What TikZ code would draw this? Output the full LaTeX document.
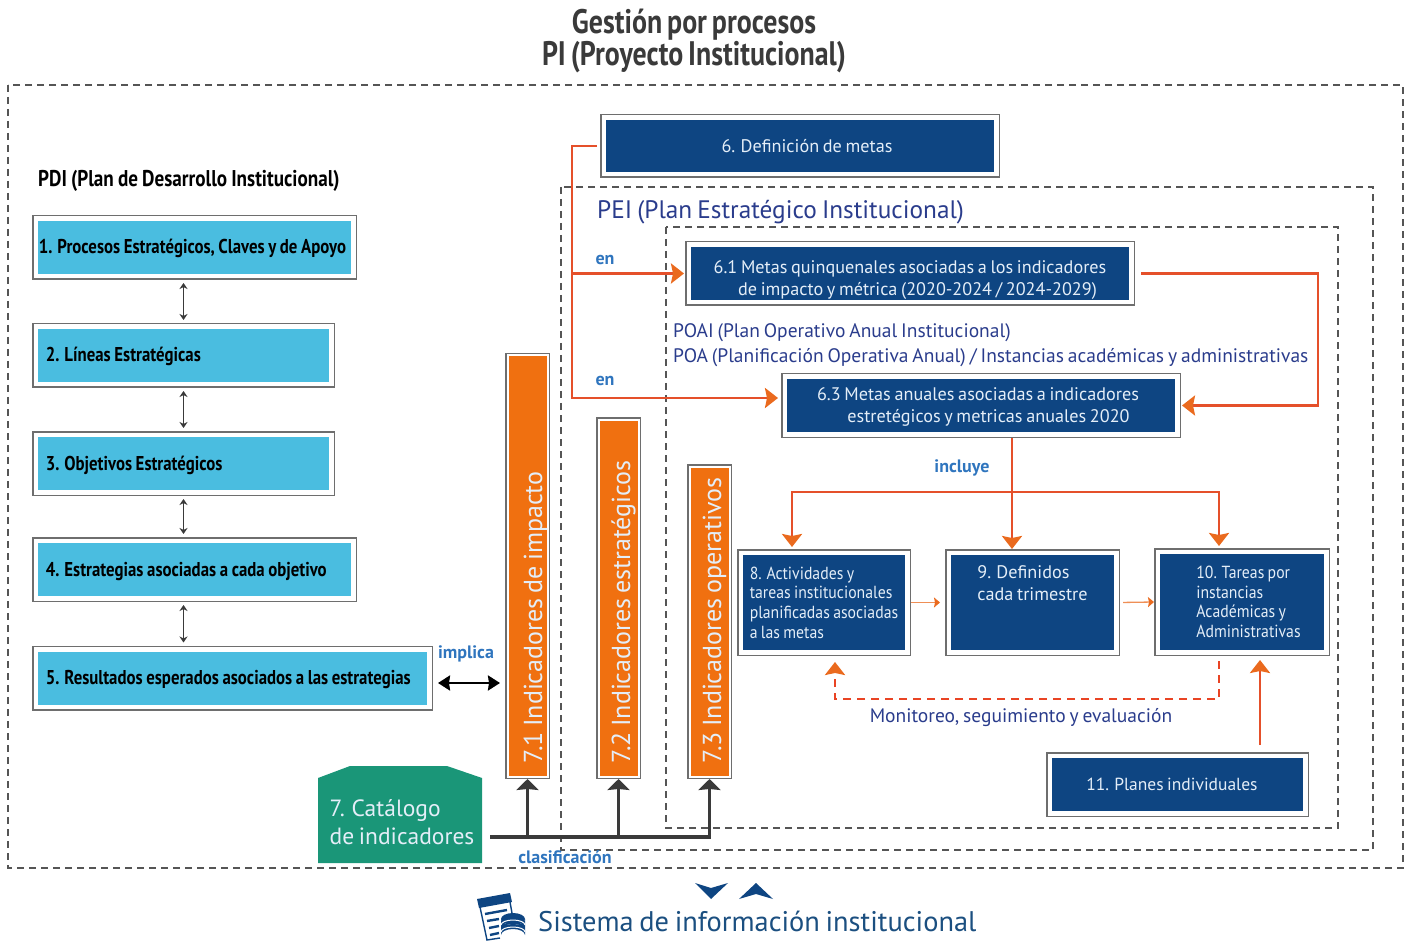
\documentclass[tikz,border=0pt]{standalone}
\usepackage{fontspec}
\usetikzlibrary{arrows.meta}
\setmainfont[WordSpace=0.75]{PT Sans}
\newfontfamily\condfont[FakeStretch=0.84,WordSpace=0.85]{PT Sans}
\newfontfamily\smallfont[FakeStretch=0.9,WordSpace=0.8]{PT Sans}
\newfontfamily\titlefont[FakeStretch=0.82,WordSpace=0.7]{PT Sans}
\definecolor{skyfill}{HTML}{4ABDE0}
\definecolor{navyfill}{HTML}{0E4582}
\definecolor{indfill}{HTML}{F07010}
\definecolor{catfill}{HTML}{1A9678}
\definecolor{goalred}{HTML}{E5502A}
\definecolor{headorange}{HTML}{EA6A1E}
\definecolor{ringgray}{HTML}{6E6E6E}
\definecolor{dashgray}{HTML}{555555}
\definecolor{darkbar}{HTML}{3A3A3A}
\definecolor{inktext}{HTML}{2A3C8C}
\definecolor{linktext}{HTML}{2F75BE}
\definecolor{sysblue}{HTML}{1B4F80}
\definecolor{palewhite}{HTML}{E4EEF8}

\begin{document}
\begin{tikzpicture}[x=1pt,y=-1pt,>=latex,
  ringed/.style={preaction={draw=ringgray,line width=#1+3pt},draw=white,line width=#1,outer sep=#1/2+1.5pt},
  ringed/.default=4.5pt,
  pdibox/.style={ringed,fill=skyfill,inner xsep=10pt,inner ysep=0pt,minimum height=57.5pt,align=flush left,text=black,
    text height=17pt,text depth=4pt,font=\condfont\bfseries\fontsize{20}{24}\selectfont},
  goalbox/.style={ringed,fill=navyfill,inner sep=0pt,align=center,text=palewhite,font=\fontsize{18.2}{22}\selectfont},
  smallgoal/.style={goalbox,align=left,font=\smallfont\fontsize{17.5}{19.6}\selectfont},
  indbox/.style={ringed=2pt,fill=indfill,rotate=90,inner xsep=13.5pt,inner ysep=0pt,minimum height=40pt,align=flush left,
    text height=23pt,text depth=0pt,text=palewhite,font=\fontsize{26}{30}\selectfont},
  catbox/.style={inner sep=0pt,minimum width=164pt,minimum height=97pt,align=left,text=palewhite,font=\fontsize{23.5}{28}\selectfont},
  linklabel/.style={text=linktext,inner sep=0pt,font=\bfseries\fontsize{18}{20}\selectfont},
  inklabel/.style={text=inktext,inner sep=0pt,font=\fontsize{19.5}{24}\selectfont},
  framedash/.style={draw=dashgray,line width=1.4pt,dash pattern=on 7pt off 5pt},
  goalarrow/.style={draw=goalred,line width=2.8pt,-{Stealth[length=13pt,width=20pt,inset=2pt,color=headorange]}},
  thinarrow/.style={draw=headorange!75!white,line width=1.3pt,-{Stealth[length=6pt,width=10pt,inset=1pt,color=headorange]}},
  busline/.style={draw=darkbar,line width=3.2pt},
  busarrow/.style={busline,-{Stealth[length=11pt,width=22pt,inset=1pt]}},
  linkarrow/.style={draw=darkbar,line width=1.2pt,{Stealth[length=6pt,width=8pt]}-{Stealth[length=6pt,width=8pt]},shorten <=3pt,shorten >=3pt},
]
\useasboundingbox (0,0) rectangle (1409,941);

% frames
\draw[framedash] (8,85) rectangle (1403,868);
\draw[framedash] (561,187) rectangle (1373,850);
\draw[framedash] (666,227) rectangle (1338,828);

% titles
\node[inner sep=0pt,align=center,font=\titlefont\bfseries\fontsize{34}{32}\selectfont,text=darkbar] (title) at (694,41) {Gestión por procesos\\PI (Proyecto Institucional)};
\node[inner sep=0pt,anchor=west,font=\condfont\bfseries\fontsize{22.8}{26}\selectfont] (pdi) at (38,181) {PDI (Plan de Desarrollo Institucional)};
\node[inklabel,anchor=west,font=\fontsize{25.3}{30}\selectfont] (pei) at (597,212) {PEI (Plan Estratégico Institucional)};
\node[inklabel,anchor=west] (poai) at (673,333) {POAI (Plan Operativo Anual Institucional)};
\node[inklabel,anchor=west] (poa) at (673,358) {POA (Planificación Operativa Anual) / Instancias académicas y administrativas};

% left column
\node[pdibox,minimum width=317.5pt,inner xsep=3pt,text width=311.5pt] (proc) at (194.5,247.5) {1. Procesos Estratégicos, Claves y de Apoyo};
\node[pdibox,minimum width=295.5pt,text width=275.5pt] (lin) at (183.5,355.5) {2. Líneas Estratégicas};
\node[pdibox,minimum width=295.5pt,text width=275.5pt] (obj) at (183.5,463.5) {3. Objetivos Estratégicos};
\node[pdibox,minimum width=317.5pt,text width=297.5pt] (est) at (194.5,569.5) {4. Estrategias asociadas a cada objetivo};
\node[pdibox,minimum width=393.5pt,text width=373.5pt] (res) at (232.5,678) {5. Resultados esperados asociados a las estrategias};

\draw[linkarrow] (lin.north |- proc.south) -- (lin.north);
\draw[linkarrow] (lin.south) -- (obj.north);
\draw[linkarrow] (obj.south) -- (obj.south |- est.north);
\draw[linkarrow] (obj.south |- est.south) -- (obj.south |- res.north);

% indicators
\node[indbox,text width=394pt,text height=29pt] (imp) at (527.5,566) {7.1 Indicadores de impacto};
\node[indbox,text width=330pt] (str) at (618.5,598) {7.2 Indicadores estratégicos};
\node[indbox,text width=283pt] (ope) at (709.5,621.5) {\mbox{7.3 Indicadores operativos}};

\fill[catfill] (318,778) -- (350,766) -- (447,766) -- (482,778) -- (482,863) -- (318,863) -- cycle;
\node[catbox] (cat) at (402,814.5) {\rule{0pt}{32pt}7. Catálogo\\de indicadores};

\coordinate (busl) at (490,837);
\draw[busarrow] (busl) -| (ope.west);
\draw[busarrow] (imp.west |- busl) -- (imp.west);
\draw[busarrow] (str.west |- busl) -- (str.west);

\draw[draw=black,line width=2.6pt,{Stealth[length=12pt,width=15pt,inset=1pt]}-{Stealth[length=12pt,width=15pt,inset=1pt]},shorten <=5pt,shorten >=5pt]
  ([yshift=-5pt]res.east) -- ([yshift=-5pt]res.east -| imp.north);

% goals
\node[goalbox,minimum width=392.5pt,minimum height=56.5pt] (def) at (800,146) {\hspace*{14pt}6. Definición de metas};
\node[goalbox,minimum width=442.5pt,minimum height=57.5pt] (qui) at (910,273.5) {\rule{0pt}{25.5pt}6.1 Metas quinquenales asociadas a los indicadores\\\hspace*{15pt}de impacto y métrica (2020-2024 / 2024-2029)};
\node[goalbox,minimum width=392.5pt,minimum height=57.5pt] (anu) at (981,405.5) {\rule{0pt}{15.5pt}\hspace*{-6pt}6.3 Metas anuales asociadas a indicadores\\\hspace*{15pt}estretégicos y metricas anuales 2020};
\node[smallgoal,minimum width=166.5pt,minimum height=99.5pt] (act) at (824,602.5) {8. Actividades y\\tareas institucionales\\planificadas asociadas\\a las metas};
\node[smallgoal,minimum width=167.5pt,minimum height=99.5pt,font=\fontsize{18.2}{22}\selectfont] (tri) at (1032.5,602.5) {9. Definidos\\cada trimestre\\[16pt]\mbox{}};
\node[smallgoal,minimum width=168.5pt,minimum height=100.5pt] (tar) at (1242,602) {\hspace*{13pt}10. Tareas por\\\hspace*{13pt}instancias\\\hspace*{13pt}Académicas y\\\hspace*{13pt}Administrativas};
\node[goalbox,minimum width=255.5pt,minimum height=57.5pt,font=\fontsize{17.5}{22}\selectfont] (ind) at (1177.5,784.5) {\hspace*{-11pt}11. Planes individuales};

\coordinate (trunk) at (572,398);
\coordinate (in63) at (778,398);
\coordinate (split) at (1012,492);
\coordinate (in8) at (792,547);
\coordinate (in10) at (1219,546);
\coordinate (monl) at (835,699);
\coordinate (up10) at (1260,700);

\draw[goalarrow,shorten <=3pt] (def.west) -| (trunk) -- (in63);
\draw[goalarrow,shorten >=1pt] (trunk |- qui.west) -- (qui.west);
\draw[goalarrow,shorten <=6pt,shorten >=1pt] (qui.east) -- ++(183,0) |- (anu.east);
\draw[goalarrow] (split |- anu.south) -- (split |- tri.north);
\draw[goalarrow] (split) -| (in8);
\draw[goalarrow] (split) -| (in10);
\draw[thinarrow,shorten >=5pt] (act.east) -- (tri.west);
\draw[thinarrow,shorten <=3pt] (tri.east) -- (tar.west);
\draw[goalarrow,draw=goalred!85!red,dash pattern=on 8pt off 6pt,shorten <=5pt,shorten >=6pt] (in10 |- tar.south) |- (monl) -- (monl |- act.south);
\draw[goalarrow,shorten <=7pt,shorten >=4pt] (up10 |- ind.north) -- (up10 |- tar.south);

% labels
\node[linklabel] (impl) at (466,654) {implica};
\node[linklabel] (en1) at (605,260) {en};
\node[linklabel] (en2) at (605,381) {en};
\node[linklabel] (incl) at (962,468) {incluye};
\node[linklabel] (clas) at (565,857) {clasificación};
\node[inklabel] (moni) at (1021,718) {Monitoreo, seguimiento y evaluación};

% bottom
\fill[navyfill] (695,883) -- (711,888) -- (728,883) -- (711,899) -- cycle;
\fill[navyfill] (739,899) -- (756,883) -- (773,899) -- (756,894) -- cycle;
\node[inner sep=0pt,anchor=west,text=sysblue,font=\fontsize{28.4}{30}\selectfont] (sys) at (538,921) {Sistema de información institucional};
\fill[navyfill] (477,899) -- (510,893) -- (512,902) -- (479,908) -- cycle;
\draw[navyfill,line width=1.4pt] (480,907) -- (487,940) -- (500,938);
\draw[navyfill,line width=1.4pt] (510,902) -- (512,913);
\draw[navyfill,line width=2.4pt] (485,914) -- (507,910);
\draw[navyfill,line width=2.4pt] (487,921) -- (499,919);
\draw[navyfill,line width=2.4pt] (489,928) -- (499,926);
\draw[navyfill,line width=2.4pt] (490,935) -- (499,933);
\fill[navyfill] (501,919) arc[start angle=180,end angle=360,x radius=12pt,y radius=6pt] -- (525,935) arc[start angle=0,end angle=180,x radius=12pt,y radius=6pt] -- cycle;
\fill[navyfill] (513,919) ellipse[x radius=12pt,y radius=6pt];
\draw[white,line width=1pt] (501,925) arc[start angle=180,end angle=0,x radius=12pt,y radius=5pt];
\draw[white,line width=1pt] (501,932) arc[start angle=180,end angle=0,x radius=12pt,y radius=5pt];

\end{tikzpicture}
\end{document}
